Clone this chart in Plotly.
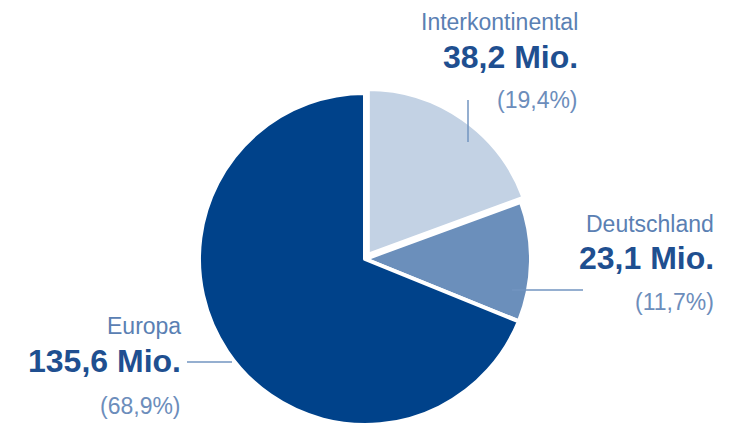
import plotly.graph_objects as go

# ---- data ----
regions = ["Interkontinental", "Deutschland", "Europa"]
values_mio = [38.2, 23.1, 135.6]
percents = [19.4, 11.7, 68.9]
slice_colors = ["#c3d2e4", "#6b8fbb", "#00428a"]

W, H = 742, 423
OFF = 8  # page body margin in the browser

def de(v):
    return f"{v:.1f}".replace(".", ",")

def px(x):
    return (x - OFF) / W

def py(y):
    return 1 - (y - OFF) / H

fig = go.Figure()
fig.add_trace(go.Pie(
    labels=regions,
    values=values_mio,
    sort=False,
    direction="clockwise",
    rotation=0,
    pull=[0.03, 0, 0],
    marker=dict(colors=slice_colors, line=dict(color="white", width=4)),
    textinfo="none",
    hoverinfo="label+value+percent",
    showlegend=False,
    domain=dict(x=[px(194), px(536)], y=[py(430), py(88)]),
))

# label layout: (right edge x px, label y, value y, percent y) in window pixels
label_pos = [
    (580, 22, 57, 100),
    (716, 224, 258, 302),
    (183, 326, 361, 406),
]
label_color = "#5a80b3"
value_color = "#1f4f90"
pct_color = "#6c8dbb"
font_family = "Liberation Sans, Arial, sans-serif"

annotations = []
for name, v, p, (xr, yl, yv, yp) in zip(regions, values_mio, percents, label_pos):
    annotations.append(dict(x=px(xr), y=py(yl), xref="paper", yref="paper",
                            text=name, showarrow=False, xanchor="right", yanchor="middle",
                            font=dict(family=font_family, size=23, color=label_color)))
    annotations.append(dict(x=px(xr), y=py(yv), xref="paper", yref="paper",
                            text=f"<b>{de(v)} Mio.</b>", showarrow=False, xanchor="right", yanchor="middle",
                            font=dict(family=font_family, size=32, color=value_color)))
    annotations.append(dict(x=px(xr), y=py(yp), xref="paper", yref="paper",
                            text=f"({de(p)}%)", showarrow=False, xanchor="right", yanchor="middle",
                            font=dict(family=font_family, size=23, color=pct_color)))

line_color = "#7294c0"
shapes = [
    dict(type="line", xref="paper", yref="paper", x0=px(468), x1=px(468), y0=py(100), y1=py(142),
         line=dict(color=line_color, width=1.5)),
    dict(type="line", xref="paper", yref="paper", x0=px(512), x1=px(583), y0=py(290), y1=py(290),
         line=dict(color=line_color, width=1.5)),
    dict(type="line", xref="paper", yref="paper", x0=px(187), x1=px(232), y0=py(362), y1=py(362),
         line=dict(color=line_color, width=1.5)),
]

fig.update_layout(
    width=W, height=H,
    margin=dict(l=0, r=0, t=0, b=0),
    paper_bgcolor="white",
    plot_bgcolor="white",
    annotations=annotations,
    shapes=shapes,
)

fig.write_html("out.html")
